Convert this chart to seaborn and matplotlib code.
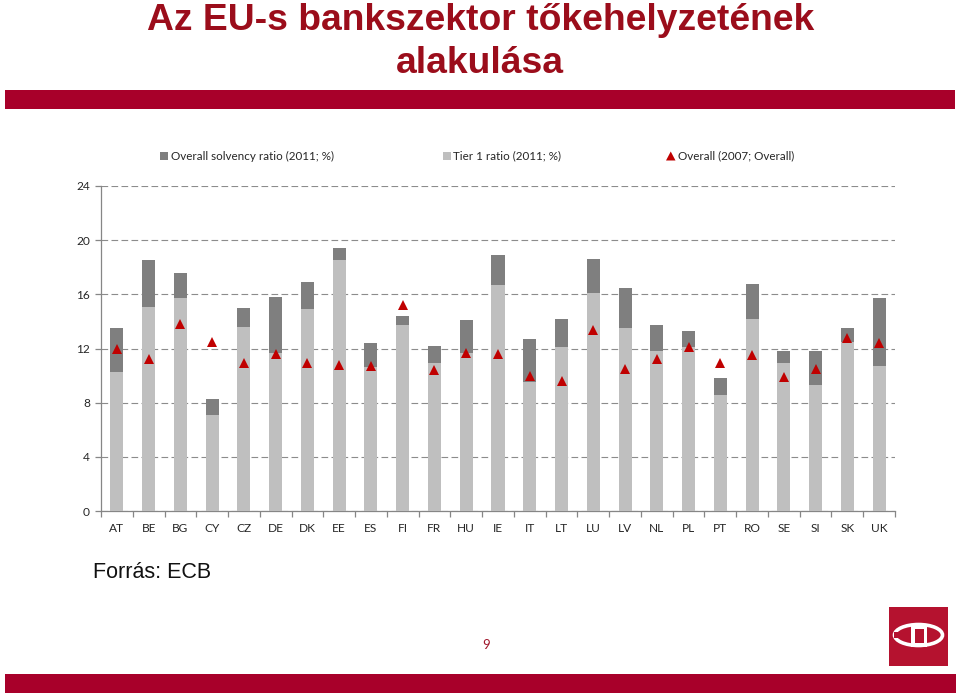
import numpy as np
import pandas as pd
import matplotlib
matplotlib.use("Agg")
import matplotlib.pyplot as plt
from matplotlib.patches import Rectangle, Ellipse, Polygon
import seaborn as sns

countries = ["AT", "BE", "BG", "CY", "CZ", "DE", "DK", "EE", "ES", "FI", "FR", "HU", "IE",
             "IT", "LT", "LU", "LV", "NL", "PL", "PT", "RO", "SE", "SI", "SK", "UK"]
overall_2011 = [13.5, 18.5, 17.6, 8.3, 15.0, 15.8, 16.9, 19.4, 12.4, 14.4, 12.2, 14.1, 18.9,
                12.7, 14.2, 18.6, 16.5, 13.7, 13.3, 9.8, 16.8, 11.8, 11.8, 13.5, 15.7]
tier1_2011 = [10.3, 15.1, 15.7, 7.1, 13.6, 11.7, 14.9, 18.5, 10.6, 13.7, 10.9, 11.7, 16.7,
              9.5, 12.1, 16.1, 13.5, 11.8, 12.1, 8.6, 14.2, 10.9, 9.3, 12.5, 10.7]
overall_2007 = [12.0, 11.2, 13.8, 12.5, 10.9, 11.6, 10.9, 10.8, 10.7, 15.2, 10.4, 11.7, 11.6,
                10.0, 9.6, 13.4, 10.5, 11.2, 12.1, 10.9, 11.5, 9.9, 10.5, 12.8, 12.4]
yticks = [0, 4, 8, 12, 16, 20, 24]
legend_labels = ["Overall solvency ratio (2011; %)", "Tier 1 ratio (2011; %)", "Overall (2007; Overall)"]

DARK = "#7F7F7F"
LIGHT = "#BFBFBF"
TRI = "#C00000"
BAND = "#A8002A"
TITLE = "#9B0D1B"
AXC = "#868686"

plt.rcParams['font.family'] = ['Lato', 'DejaVu Sans']

df = pd.DataFrame({"country": countries, "overall": overall_2011,
                   "tier1": tier1_2011, "o2007": overall_2007})

W, H = 960, 696
fig = plt.figure(figsize=(W / 100, H / 100), dpi=100)
ax = fig.add_axes([101 / W, 1 - 511 / H, 794 / W, 325 / H])

sns.barplot(data=df, x="country", y="overall", color=DARK, saturation=1, width=0.41, ax=ax, zorder=2)
sns.barplot(data=df, x="country", y="tier1", color=LIGHT, saturation=1, width=0.41, ax=ax, zorder=3)
sns.pointplot(data=df, x="country", y="o2007", linestyle="none", marker="^", color=TRI,
              markersize=7, markeredgewidth=0, errorbar=None, ax=ax, zorder=5)

ax.set_xlim(-0.5, len(countries) - 0.5)
ax.set_ylim(0, 24)
ax.set_yticks(yticks)
ax.set_xlabel("")
ax.set_ylabel("")
ax.set_axisbelow(True)
ax.yaxis.grid(True, linestyle=(0, (6, 3)), color="#8c8c8c", linewidth=0.8)
ax.xaxis.grid(False)
for s in ["top", "right"]:
    ax.spines[s].set_visible(False)
for s in ["left", "bottom"]:
    ax.spines[s].set_color(AXC)
    ax.spines[s].set_linewidth(0.9)
ax.set_xticks(np.arange(-0.5, len(countries), 1), minor=True)
ax.tick_params(axis="x", which="major", length=0, pad=9, labelsize=8.6, labelcolor="#262626")
ax.tick_params(axis="x", which="minor", length=4, color=AXC, width=0.9)
ax.tick_params(axis="y", which="major", length=4, color=AXC, width=0.9, pad=4,
               labelsize=8.6, labelcolor="#262626")
ax.patch.set_alpha(0)

# overlay in pixel coordinates for decorations
ov = fig.add_axes([0, 0, 1, 1], zorder=10)
ov.set_xlim(0, W)
ov.set_ylim(H, 0)
ov.axis("off")

ov.text(481, 30, "Az EU-s bankszektor tőkehelyzetének", ha="center", va="baseline",
        fontsize=26.8, fontweight="bold", color=TITLE, family="Liberation Sans")
ov.text(480, 73, "alakulása", ha="center", va="baseline",
        fontsize=26.8, fontweight="bold", color=TITLE, family="Liberation Sans")
ov.add_patch(Rectangle((5, 90), 950, 19, color=BAND, lw=0))
ov.add_patch(Rectangle((5, 674), 951, 19, color=BAND, lw=0))

# legend
ov.add_patch(Rectangle((160, 152), 7.5, 7.5, color=DARK, lw=0))
ov.text(171, 156, legend_labels[0], ha="left", va="center", fontsize=8.4, color="#262626")
ov.add_patch(Rectangle((443, 152), 7.5, 7.5, color=LIGHT, lw=0))
ov.text(453, 156, legend_labels[1], ha="left", va="center", fontsize=8.4, color="#262626")
ov.add_patch(Polygon([[666, 160.5], [675.5, 160.5], [670.75, 151.5]], closed=True, color=TRI, lw=0))
ov.text(678, 156, legend_labels[2], ha="left", va="center", fontsize=8.4, color="#262626")

ov.text(93, 573, "Forrás: ECB", ha="left", va="center", fontsize=15.5,
        family="Liberation Sans", color="#111111")
ov.text(486, 645, "9", ha="center", va="center", fontsize=9.5, color="#A0162B")

# logo
ov.add_patch(Rectangle((889, 607), 59, 59, color="#B5122F", lw=0))
ov.add_patch(Ellipse((918.5, 635), 48, 21, fill=False, edgecolor="white", lw=2.6))
ov.add_patch(Rectangle((894, 632), 5, 6, color="#B5122F", lw=0))
ov.add_patch(Rectangle((911, 624), 16, 23, color="white", lw=0))
ov.add_patch(Rectangle((914.5, 628.5), 9, 14, color="#B5122F", lw=0))

fig.savefig("out.png", dpi=100, facecolor="white")
